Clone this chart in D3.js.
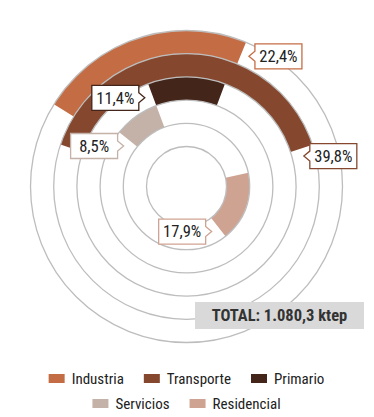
<!DOCTYPE html>
<html>
<head>
<meta charset="utf-8">
<script src="https://cdn.jsdelivr.net/npm/d3@7"></script>
<style>
  body { margin: 0; background: #fff; }
  svg { display: block; font-family: "Roboto Condensed", "Liberation Sans Narrow", "DejaVu Sans Condensed", sans-serif; }
</style>
</head>
<body>
<div id="chart"></div>
<script>
// ── datos ────────────────────────────────────────────────
const sectores  = ["Industria", "Transporte", "Primario", "Servicios", "Residencial"];
const valores   = [22.4, 39.8, 11.4, 8.5, 17.9];
const etiquetas = ["22,4%", "39,8%", "11,4%", "8,5%", "17,9%"];
const colores   = ["#c46d45", "#85482f", "#43251a", "#c4b1a7", "#cfa391"];
const totalTxt  = "TOTAL: 1.080,3 ktep";

// ── disposición (ángulo inicial de cada anillo, lado de la etiqueta) ──
const inicioDeg   = [-58.2, -71.6, -20.5, -51.1, 77.5];
const extremoEtiq = ["end", "end", "start", "start", "end"];
const ladoEtiq    = ["right", "right", "left", "left", "left"];

const W = 374, H = 417;
const cx = 186.5, cy = 186.5;

const svg = d3.select("#chart").append("svg").attr("width", W).attr("height", H);
const g = svg.append("g").attr("transform", `translate(${cx},${cy})`);

// radio por índice de anillo (0 = exterior)
const r = d3.scaleLinear().domain([0, sectores.length]).range([156, 40]);
const ang = d3.scaleLinear().domain([0, 100]).range([0, 2 * Math.PI]);
const rad = d => d * Math.PI / 180;

const arc = d3.arc();

// ── arcos ────────────────────────────────────────────────
const datos = sectores.map((s, i) => {
    const a0 = rad(inicioDeg[i]);
    return { s, i, v: valores[i], a0, a1: a0 + ang(valores[i]),
             rIn: r(i + 1), rOut: r(i) };
});

g.selectAll("path.anillo").data(datos).enter()
    .append("path").attr("class", "anillo")
    .attr("d", d => arc({ innerRadius: d.rIn, outerRadius: d.rOut, startAngle: d.a0, endAngle: d.a1 }))
    .attr("fill", d => colores[d.i]);

// ── círculos guía ────────────────────────────────────────
g.selectAll("circle.guia").data(d3.range(sectores.length + 1)).enter()
    .append("circle").attr("class", "guia")
    .attr("r", i => r(i))
    .attr("fill", "none")
    .attr("stroke", "#bdbdbd")
    .attr("stroke-width", 1.3);

// ── etiquetas con flecha ─────────────────────────────────
const bw = 47, bh = 25, pd = 6, ph = 5;
datos.forEach(d => {
    const rm = (d.rIn + d.rOut) / 2;
    const gap = 8 / rm;
    const a = extremoEtiq[d.i] === "end" ? d.a1 + gap : d.a0 - gap;
    const tx = rm * Math.sin(a), ty = -rm * Math.cos(a);
    let pts;
    if (ladoEtiq[d.i] === "right") {
        const x0 = tx + pd;
        pts = [[tx, ty], [x0, ty - ph], [x0, ty - bh / 2], [x0 + bw, ty - bh / 2],
               [x0 + bw, ty + bh / 2], [x0, ty + bh / 2], [x0, ty + ph]];
    } else {
        const x1 = tx - pd;
        pts = [[tx, ty], [x1, ty + ph], [x1, ty + bh / 2], [x1 - bw, ty + bh / 2],
               [x1 - bw, ty - bh / 2], [x1, ty - bh / 2], [x1, ty - ph]];
    }
    g.append("path")
        .attr("d", d3.line()(pts) + "Z")
        .attr("fill", "#fff")
        .attr("stroke", colores[d.i])
        .attr("stroke-width", 1.3);
    const mx = ladoEtiq[d.i] === "right" ? tx + pd + bw / 2 : tx - pd - bw / 2;
    g.append("text")
        .attr("x", mx).attr("y", ty)
        .attr("dy", "0.36em")
        .attr("text-anchor", "middle")
        .attr("font-size", 16.5)
        .attr("fill", "#222")
        .text(etiquetas[d.i]);
});

// ── total ────────────────────────────────────────────────
svg.append("rect").attr("x", 195).attr("y", 302).attr("width", 169).attr("height", 27).attr("fill", "#d9d9d9");
svg.append("text").attr("x", 279.5).attr("y", 315.5).attr("dy", "0.36em")
    .attr("text-anchor", "middle").attr("font-size", 16.5).attr("font-weight", "bold")
    .attr("fill", "#333").text(totalTxt);

// ── leyenda ──────────────────────────────────────────────
const filas = [[0, 1, 2], [3, 4]];
const filaY = [378.5, 403.5];
const sw = 16, sh = 9, sg = 7, ig = 20;
filas.forEach((fila, k) => {
    const lg = svg.append("g");
    let x = 0;
    fila.forEach(i => {
        lg.append("rect").attr("x", x).attr("y", filaY[k] - sh / 2).attr("width", sw).attr("height", sh).attr("fill", colores[i]);
        const t = lg.append("text").attr("x", x + sw + sg).attr("y", filaY[k]).attr("dy", "0.36em")
            .attr("font-size", 15).attr("fill", "#222").text(sectores[i]);
        x += sw + sg + t.node().getComputedTextLength() + ig;
    });
    const wTot = x - ig;
    lg.attr("transform", `translate(${186.5 - wTot / 2},0)`);
});
</script>
</body>
</html>
